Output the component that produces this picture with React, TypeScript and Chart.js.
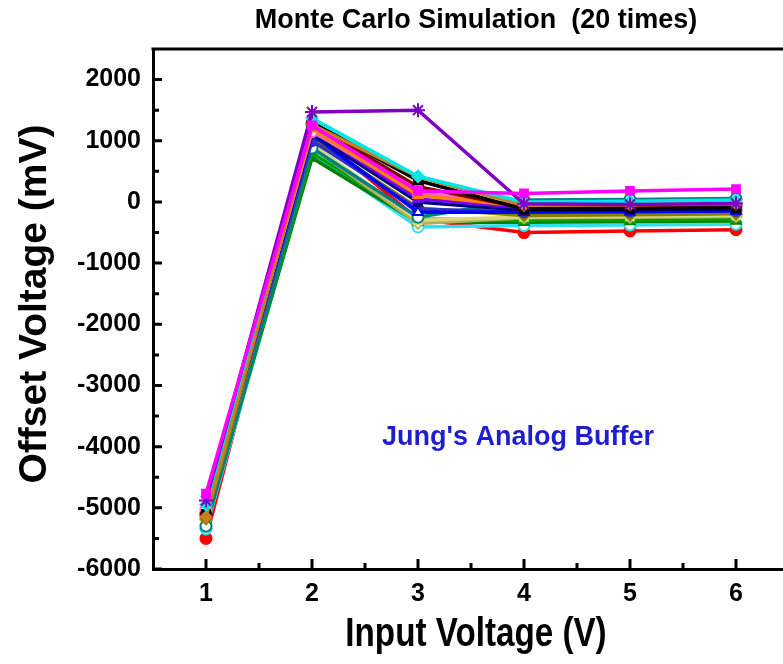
import { useEffect, useRef } from 'react';
import { Chart, registerables } from 'chart.js';

Chart.register(...registerables);

// ---- data ----
const inputVoltages = [1, 2, 3, 4, 5, 6];
const xTickValues = [1, 2, 3, 4, 5, 6];
const yTickValues = [-6000, -5000, -4000, -3000, -2000, -1000, 0, 1000, 2000];
const chartTitle = 'Monte Carlo Simulation  (20 times)';
const xAxisTitle = 'Input Voltage (V)';
const yAxisTitle = 'Offset Voltage (mV)';
const annotationText = "Jung's Analog Buffer";

const run01 = [-5100, 1300, 350, -120, -110, -95];
const run02 = [-5500, 1150, -280, -500, -475, -455];
const run03 = [-5250, 720, -330, -330, -320, -310];
const run04 = [-5050, 1100, -170, -170, -160, -150];
const run05 = [-4950, 1370, 420, 0, 10, 30];
const run06 = [-4770, 1250, 180, 140, 180, 210];
const run07 = [-5235, 950, -300, -245, -235, -220];
const run08 = [-5150, 1260, 410, -55, -45, -30];
const run09 = [-5000, 1120, 0, -135, -125, -115];
const run10 = [-4880, 1470, 1500, -30, -40, -25];
const run11 = [-5120, 1280, 250, -100, -90, -80];
const run12 = [-5180, 1050, -100, -220, -210, -195];
const run13 = [-5300, 880, -250, 30, 40, 55];
const run14 = [-5080, 1000, -120, -160, -150, -140];
const run15 = [-5130, 1200, 110, -70, -60, -50];
const run16 = [-4980, 1180, 50, -90, -85, -75];
const run17 = [-5020, 1150, 150, -60, -50, -40];
const run18 = [-5345, 780, -410, -385, -375, -365];
const run19 = [-5280, 800, -280, -300, -290, -280];
const run20 = [-5200, 900, -350, -260, -250, -240];

const runs = [run06, run10, run05, run08, run01, run11, run15, run17, run16, run09, run04, run14, run12, run13, run07, run20, run19, run03, run18, run02];
const runColors = ['#ff00ff', '#8000c0', '#00e5e5', '#c8801e', '#000000', '#800000', '#ff8000', '#ff66cc', '#8000ff', '#000080', '#0000ff', '#3030c0', '#808000', '#008080', '#d8d878', '#b0b060', '#00a000', '#008000', '#30e0f0', '#ff0000'];
const runMarkers = ['rect', 'star', 'rectRot', 'rectRot', 'rect', 'circle', 'triangle', 'circle', 'triangle', 'rect', 'triangle', 'circle', 'rectRot', 'circle', 'rect', 'rectRot', 'triangle', 'triangle', 'circle', 'circle'];
const runHollow = [false, false, false, false, false, true, false, true, false, false, true, false, false, true, false, true, false, false, true, false];

export default function App() {
  const ref = useRef<HTMLCanvasElement | null>(null);

  useEffect(() => {
    if (!ref.current) return;
    const fam = '"Liberation Sans", Arial, sans-serif';
    const tickFont = { family: fam, size: 25, weight: 'bold' as const };

    const framePlugin = {
      id: 'frame',
      afterDraw(chart: any) {
        const { ctx, chartArea } = chart;
        const xs = chart.scales.x;
        const ys = chart.scales.y;
        ctx.save();
        ctx.strokeStyle = '#000';
        ctx.lineWidth = 3;
        ctx.beginPath();
        ctx.moveTo(chartArea.left - 1.5, chartArea.top);
        ctx.lineTo(chart.width, chartArea.top);
        ctx.stroke();
        // inward ticks
        ctx.beginPath();
        for (const v of xTickValues) {
          const px = xs.getPixelForValue(v);
          ctx.moveTo(px, chartArea.bottom);
          ctx.lineTo(px, chartArea.bottom - 10);
          const pm = xs.getPixelForValue(v + 0.5);
          if (pm < chartArea.right - 2) {
            ctx.moveTo(pm, chartArea.bottom);
            ctx.lineTo(pm, chartArea.bottom - 6);
          }
        }
        for (const v of yTickValues) {
          const py = ys.getPixelForValue(v);
          ctx.moveTo(chartArea.left, py);
          ctx.lineTo(chartArea.left + 9, py);
          const pm = ys.getPixelForValue(v + 500);
          if (pm > chartArea.top) {
            ctx.moveTo(chartArea.left, pm);
            ctx.lineTo(chartArea.left + 6, pm);
          }
        }
        ctx.stroke();

        // texts
        ctx.fillStyle = '#000';
        ctx.textAlign = 'center';
        ctx.textBaseline = 'alphabetic';

        ctx.save();
        ctx.font = 'bold 27px ' + fam;
        ctx.fillText(chartTitle, 476, 28);
        ctx.restore();

        ctx.save();
        ctx.translate(476, 646);
        ctx.scale(0.83, 1);
        ctx.font = 'bold 40px ' + fam;
        ctx.fillText(xAxisTitle, 0, 0);
        ctx.restore();

        ctx.save();
        ctx.translate(46, 304);
        ctx.rotate(-Math.PI / 2);
        ctx.font = 'bold 39px ' + fam;
        ctx.fillText(yAxisTitle, 0, 0);
        ctx.restore();

        ctx.fillStyle = '#1e1ecc';
        ctx.font = 'bold 27px ' + fam;
        ctx.fillText(annotationText, 518, 445);
        ctx.restore();
      },
    };

    const chart = new Chart(ref.current, {
      type: 'line',
      data: {
        datasets: runs.map((vals, i) => ({
          label: 'Run ' + (i + 1),
          data: vals.map((y, k) => ({ x: inputVoltages[k], y })),
          borderColor: runColors[i],
          backgroundColor: runColors[i],
          pointBackgroundColor: runHollow[i] ? '#ffffff' : runColors[i],
          pointBorderColor: runColors[i],
          pointStyle: runMarkers[i] as any,
          pointRadius: runMarkers[i] === 'star' ? 7 : 5.5,
          pointBorderWidth: 2,
          borderWidth: 3.5,
          tension: 0,
        })),
      },
      options: {
        responsive: false,
        animation: false,
        devicePixelRatio: 1,
        layout: { padding: { top: 49, left: 0, right: 0, bottom: 0 } },
        plugins: {
          legend: { display: false },
          tooltip: { enabled: false },
          title: { display: false },
        },
        scales: {
          x: {
            type: 'linear',
            min: 0.5,
            max: 6.5,
            afterBuildTicks: (s: any) => {
              s.ticks = xTickValues.map((v) => ({ value: v }));
            },
            afterFit: (s: any) => {
              s.height = 95;
              s.paddingRight = 0;
              s.paddingLeft = 0;
            },
            grid: { display: false, drawTicks: false },
            border: { display: true, color: '#000', width: 3 },
            ticks: { padding: 10, color: '#000', font: tickFont, maxRotation: 0, autoSkip: false, callback: (v: any) => String(v) },
          },
          y: {
            type: 'linear',
            min: -6000,
            max: 2500,
            afterBuildTicks: (s: any) => {
              s.ticks = yTickValues.map((v) => ({ value: v }));
            },
            afterFit: (s: any) => {
              s.width = 153;
              s.paddingTop = 0;
              s.paddingBottom = 0;
            },
            grid: { display: false, drawTicks: false },
            border: { display: true, color: '#000', width: 3 },
            ticks: { padding: 12, color: '#000', font: tickFont, autoSkip: false, callback: (v: any) => String(v) },
          },
        },
      },
      plugins: [framePlugin],
    });
    return () => chart.destroy();
  }, []);

  return (
    <div style={{ position: 'absolute', left: 0, top: 0, width: 783, height: 664, background: '#fff', overflow: 'hidden' }}>
      <canvas ref={ref} width={798} height={664} />
    </div>
  );
}
